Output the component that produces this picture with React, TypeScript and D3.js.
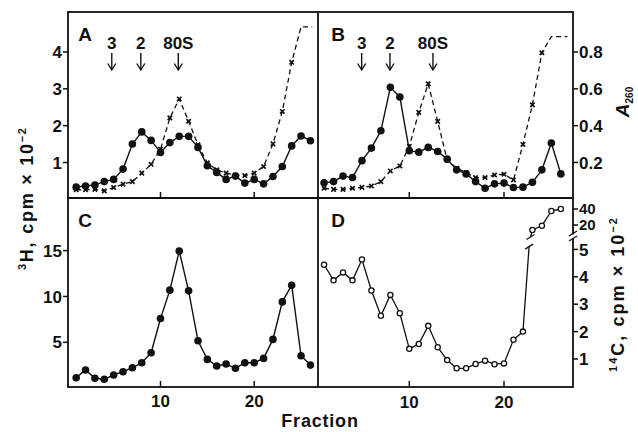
import React from 'react';
import * as d3 from 'd3';

// ---------------- data ----------------
const fractions = [1, 2, 3, 4, 5, 6, 7, 8, 9, 10, 11, 12, 13, 14, 15, 16, 17, 18, 19, 20, 21, 22, 23, 24, 25, 26];

// Panel A: 3H (closed circles, cpm x 10^-2) and A260 (crosses, dashed)
const aH3 = [0.33, 0.36, 0.39, 0.48, 0.54, 0.82, 1.50, 1.83, 1.60, 1.27, 1.54, 1.71, 1.71, 1.41, 0.91, 0.73, 0.54, 0.63, 0.44, 0.54, 0.42, 0.62, 0.89, 1.45, 1.72, 1.59];
const aA260 = [0.052, 0.052, 0.054, 0.046, 0.064, 0.082, 0.096, 0.142, 0.190, 0.272, 0.442, 0.545, 0.424, 0.296, 0.198, 0.160, 0.142, 0.132, 0.129, 0.142, 0.178, 0.301, 0.477, 0.744, 0.937, 0.937];
const aPlateauEnd = 26.2;

// Panel B
const bH3 = [0.45, 0.48, 0.63, 0.59, 1.05, 1.39, 1.86, 3.04, 2.78, 1.32, 1.28, 1.41, 1.30, 1.09, 0.80, 0.69, 0.48, 0.30, 0.42, 0.44, 0.32, 0.33, 0.46, 0.80, 1.53, 0.69];
const bA260 = [0.060, 0.054, 0.054, 0.060, 0.065, 0.072, 0.096, 0.154, 0.181, 0.287, 0.472, 0.627, 0.423, 0.214, 0.169, 0.145, 0.118, 0.118, 0.132, 0.136, 0.105, 0.298, 0.513, 0.796, 0.884, 0.884];
const bPlateauEnd = 26.7;

// Panel C: 3H
const cH3 = [1.14, 1.98, 1.08, 0.97, 1.44, 1.80, 2.23, 2.77, 3.86, 7.60, 10.69, 14.96, 10.61, 5.17, 3.14, 2.42, 2.63, 2.17, 2.77, 2.77, 3.25, 5.32, 9.41, 11.23, 3.54, 2.52];

// Panel D: 14C (open circles), broken axis
const dC14Low = [4.44, 3.87, 4.16, 3.87, 4.63, 3.50, 2.58, 3.34, 2.67, 1.37, 1.55, 2.21, 1.43, 0.96, 0.66, 0.66, 0.82, 0.94, 0.81, 0.84, 1.70, 2.00];
const dC14High = [13.75, 19.1, 37.5, 40];
const dBreakLow = { f: 22.65, v: 5.1 };
const dBreakHigh = { f: 22.8, v: 5 };

const aMarkers = [{ label: '3', f: 4.8 }, { label: '2', f: 7.9 }, { label: '80S', f: 11.9 }];
const bMarkers = [{ label: '3', f: 4.97 }, { label: '2', f: 7.96 }, { label: '80S', f: 12.5 }];

const h3TicksAB = [1, 2, 3, 4];
const a260Ticks = [0.2, 0.4, 0.6, 0.8];
const h3TicksC = [5, 10, 15];
const c14TicksLow = [1, 2, 3, 4, 5];
const c14TicksHigh = [20, 40];
const fractionTicks = [10, 20];

// ---------------- layout ----------------
const W = 638, H = 432;
const L = 68, M = 318, R = 573, T = 12, MY = 198, B = 387;
const FONT = '"Liberation Sans", Arial, Helvetica, sans-serif';
const INK = '#111';

const xL = d3.scaleLinear().domain([10, 20]).range([160.5, 254.2]);
const xR = d3.scaleLinear().domain([10, 20]).range([409.3, 504]);
const yAB = d3.scaleLinear().domain([0, 4]).range([199.3, 52]);
const yA260 = d3.scaleLinear().domain([0, 0.8]).range([199.3, 52]);
const yC = d3.scaleLinear().domain([0, 15]).range([388.2, 250.6]);
const yDLow = d3.scaleLinear().domain([0, 5]).range([386.4, 249.4]);
const yDHigh = d3.scaleLinear().domain([20, 40]).range([225, 209]);

const line = d3.line<[number, number]>().x(d => d[0]).y(d => d[1]);

function Dot({ x, y }: { x: number; y: number }) {
  return <circle cx={x} cy={y} r={3.8} fill={INK} />;
}
function Ring({ x, y }: { x: number; y: number }) {
  return <circle cx={x} cy={y} r={2.6} fill="#fff" stroke={INK} strokeWidth={1.3} />;
}
function Cross({ x, y }: { x: number; y: number }) {
  const s = 2.2;
  return (
    <path d={`M${x - s},${y - s}L${x + s},${y + s}M${x - s},${y + s}L${x + s},${y - s}`} stroke={INK} strokeWidth={1.7} />
  );
}

function Arrows({ markers, x }: { markers: { label: string; f: number }[]; x: (f: number) => number }) {
  return (
    <g>
      {markers.map((m, i) => {
        const cx = x(m.f);
        return (
          <g key={i}>
            <text x={cx} y={49} textAnchor="middle" fontSize={17} fontWeight="bold" fontFamily={FONT} fill={INK}>{m.label}</text>
            <line x1={cx} x2={cx} y1={53} y2={70} stroke={INK} strokeWidth={1.4} />
            <path d={`M${cx - 4},${63.5}L${cx},${70}L${cx + 4},${63.5}`} fill="none" stroke={INK} strokeWidth={1.4} />
          </g>
        );
      })}
    </g>
  );
}

export default function App() {
  const aCirc: [number, number][] = fractions.map((f, i) => [xL(f), yAB(aH3[i])]);
  const aCross: [number, number][] = fractions.map((f, i) => [xL(f), yA260(aA260[i])]);
  const aCrossLine: [number, number][] = [...aCross, [xL(aPlateauEnd), yA260(aA260[aA260.length - 1])]];

  const bCirc: [number, number][] = fractions.map((f, i) => [xR(f), yAB(bH3[i])]);
  const bCross: [number, number][] = fractions.map((f, i) => [xR(f), yA260(bA260[i])]);
  const bCrossLine: [number, number][] = [...bCross, [xR(bPlateauEnd), yA260(bA260[bA260.length - 1])]];

  const cCirc: [number, number][] = fractions.map((f, i) => [xL(f), yC(cH3[i])]);

  const dLowPts: [number, number][] = dC14Low.map((v, i) => [xR(fractions[i]), yDLow(v)]);
  const dHighPts: [number, number][] = dC14High.map((v, i) => [xR(fractions[dC14Low.length + i]), yDHigh(v)]);
  const bl: [number, number] = [xR(dBreakLow.f), yDLow(dBreakLow.v)];
  const bh: [number, number] = [xR(dBreakHigh.f), yDHigh(dBreakHigh.v)];

  const crossMarked = 24; // plateau points carry no marker

  const tickLabel = (props: any, txt: string, size = 17) => (
    <text fontSize={size} fontWeight="bold" fontFamily={FONT} fill={INK} {...props}>{txt}</text>
  );

  return (
    <svg width={W} height={H} viewBox={`0 0 ${W} ${H}`} style={{ position: 'absolute', left: 0, top: 0, background: '#fff' }}>
      <rect x={0} y={0} width={W} height={H} fill="#fff" />

      {/* frame */}
      <rect x={L} y={T} width={R - L} height={B - T} fill="none" stroke={INK} strokeWidth={1.8} />
      <line x1={M} x2={M} y1={T} y2={B} stroke={INK} strokeWidth={1.8} />
      <line x1={L} x2={R} y1={MY} y2={MY} stroke={INK} strokeWidth={1.8} />

      {/* left axis ticks A */}
      {h3TicksAB.map(t => (
        <g key={'la' + t}>
          <line x1={L - 5} x2={L} y1={yAB(t)} y2={yAB(t)} stroke={INK} strokeWidth={1.5} />
          {tickLabel({ x: L - 6, y: yAB(t), dy: '0.36em', textAnchor: 'end' }, String(t))}
        </g>
      ))}
      {/* left axis ticks C */}
      {h3TicksC.map(t => (
        <g key={'lc' + t}>
          <line x1={L - 5} x2={L} y1={yC(t)} y2={yC(t)} stroke={INK} strokeWidth={1.5} />
          {tickLabel({ x: L - 6, y: yC(t), dy: '0.36em', textAnchor: 'end' }, String(t))}
        </g>
      ))}
      {/* right axis A260 */}
      {a260Ticks.map(t => (
        <g key={'ra' + t}>
          <line x1={R} x2={R + 5} y1={yA260(t)} y2={yA260(t)} stroke={INK} strokeWidth={1.5} />
          {tickLabel({ x: R + 6, y: yA260(t), dy: '0.36em', textAnchor: 'start' }, t.toFixed(1))}
        </g>
      ))}
      {/* right axis 14C */}
      {c14TicksLow.map(t => (
        <g key={'rd' + t}>
          <line x1={R} x2={R + 5} y1={yDLow(t)} y2={yDLow(t)} stroke={INK} strokeWidth={1.5} />
          {tickLabel({ x: R + 6, y: yDLow(t), dy: '0.36em', textAnchor: 'start' }, String(t))}
        </g>
      ))}
      {c14TicksHigh.map(t => (
        <g key={'rh' + t}>
          <line x1={R} x2={R + 5} y1={yDHigh(t)} y2={yDHigh(t)} stroke={INK} strokeWidth={1.5} />
          {tickLabel({ x: R + 6, y: yDHigh(t), dy: '0.36em', textAnchor: 'start' }, String(t), 15)}
        </g>
      ))}
      {/* axis break on right axis */}
      <rect x={R - 3} y={234.5} width={6} height={4} fill="#fff" />
      <line x1={R - 4} x2={R + 4} y1={236} y2={231} stroke={INK} strokeWidth={1.3} />
      <line x1={R - 4} x2={R + 4} y1={241} y2={236} stroke={INK} strokeWidth={1.3} />

      {/* x ticks (inside, pointing up) */}
      {fractionTicks.map(t => (
        <g key={'xt' + t}>
          <line x1={xL(t)} x2={xL(t)} y1={MY - 6} y2={MY} stroke={INK} strokeWidth={1.5} />
          <line x1={xR(t)} x2={xR(t)} y1={MY - 6} y2={MY} stroke={INK} strokeWidth={1.5} />
          <line x1={xL(t)} x2={xL(t)} y1={B - 6} y2={B} stroke={INK} strokeWidth={1.5} />
          <line x1={xR(t)} x2={xR(t)} y1={B - 6} y2={B} stroke={INK} strokeWidth={1.5} />
          {tickLabel({ x: xL(t), y: 407, textAnchor: 'middle' }, String(t))}
          {tickLabel({ x: xR(t), y: 408, textAnchor: 'middle' }, String(t))}
        </g>
      ))}

      {/* panel letters */}
      {[['A', 85, 41], ['B', 338, 41], ['C', 85, 227], ['D', 338, 227]].map(([s, x, y]) => (
        <text key={s as string} x={x as number} y={y as number} textAnchor="middle" fontSize={19} fontWeight="bold" fontFamily={FONT} fill={INK}>{s}</text>
      ))}

      {/* sedimentation markers */}
      <Arrows markers={aMarkers} x={xL} />
      <Arrows markers={bMarkers} x={xR} />

      {/* Panel A */}
      <path d={line(aCrossLine) || ''} fill="none" stroke={INK} strokeWidth={1.3} strokeDasharray="5,3.5" />
      {aCross.slice(0, crossMarked).map((p, i) => <Cross key={'ax' + i} x={p[0]} y={p[1]} />)}
      <path d={line(aCirc) || ''} fill="none" stroke={INK} strokeWidth={1.4} />
      {aCirc.map((p, i) => <Dot key={'ac' + i} x={p[0]} y={p[1]} />)}

      {/* Panel B */}
      <path d={line(bCrossLine) || ''} fill="none" stroke={INK} strokeWidth={1.3} strokeDasharray="5,3.5" />
      {bCross.slice(0, crossMarked).map((p, i) => <Cross key={'bx' + i} x={p[0]} y={p[1]} />)}
      <path d={line(bCirc) || ''} fill="none" stroke={INK} strokeWidth={1.4} />
      {bCirc.map((p, i) => <Dot key={'bc' + i} x={p[0]} y={p[1]} />)}

      {/* Panel C */}
      <path d={line(cCirc) || ''} fill="none" stroke={INK} strokeWidth={1.4} />
      {cCirc.map((p, i) => <Dot key={'cc' + i} x={p[0]} y={p[1]} />)}

      {/* Panel D */}
      <path d={line([...dLowPts, bl]) || ''} fill="none" stroke={INK} strokeWidth={1.3} />
      <path d={line([bh, ...dHighPts]) || ''} fill="none" stroke={INK} strokeWidth={1.3} />
      <line x1={bl[0] - 4} x2={bl[0] + 4} y1={bl[1] + 2.5} y2={bl[1] - 2.5} stroke={INK} strokeWidth={1.3} />
      <line x1={bh[0] - 4} x2={bh[0] + 4} y1={bh[1] + 2.5} y2={bh[1] - 2.5} stroke={INK} strokeWidth={1.3} />
      {[...dLowPts, ...dHighPts].map((p, i) => <Ring key={'dc' + i} x={p[0]} y={p[1]} />)}

      {/* axis titles */}
      <text x={320} y={427} textAnchor="middle" fontSize={18} fontWeight="bold" fontFamily={FONT} fill={INK} letterSpacing={0.8}>Fraction</text>

      <text transform="translate(33,199) rotate(-90)" textAnchor="middle" fontWeight="bold" fontFamily={FONT} fill={INK} textLength={142} lengthAdjust="spacing">
        <tspan fontSize={11} dy={-7}>3</tspan>
        <tspan fontSize={18} dy={7}>H, cpm × 10</tspan>
        <tspan fontSize={11} dy={-7}>−2</tspan>
      </text>

      <text transform="translate(624,295) rotate(-90)" textAnchor="middle" fontWeight="bold" fontFamily={FONT} fill={INK} textLength={154} lengthAdjust="spacing">
        <tspan fontSize={11} dy={-7}>14</tspan>
        <tspan fontSize={18} dy={7}>C, cpm × 10</tspan>
        <tspan fontSize={11} dy={-7}>−2</tspan>
      </text>

      <text transform="translate(629,102) rotate(-90)" textAnchor="middle" fontWeight="bold" fontFamily={FONT} fill={INK}>
        <tspan fontSize={19} fontStyle="italic">A</tspan>
        <tspan fontSize={10} dy={4}>260</tspan>
      </text>
    </svg>
  );
}
